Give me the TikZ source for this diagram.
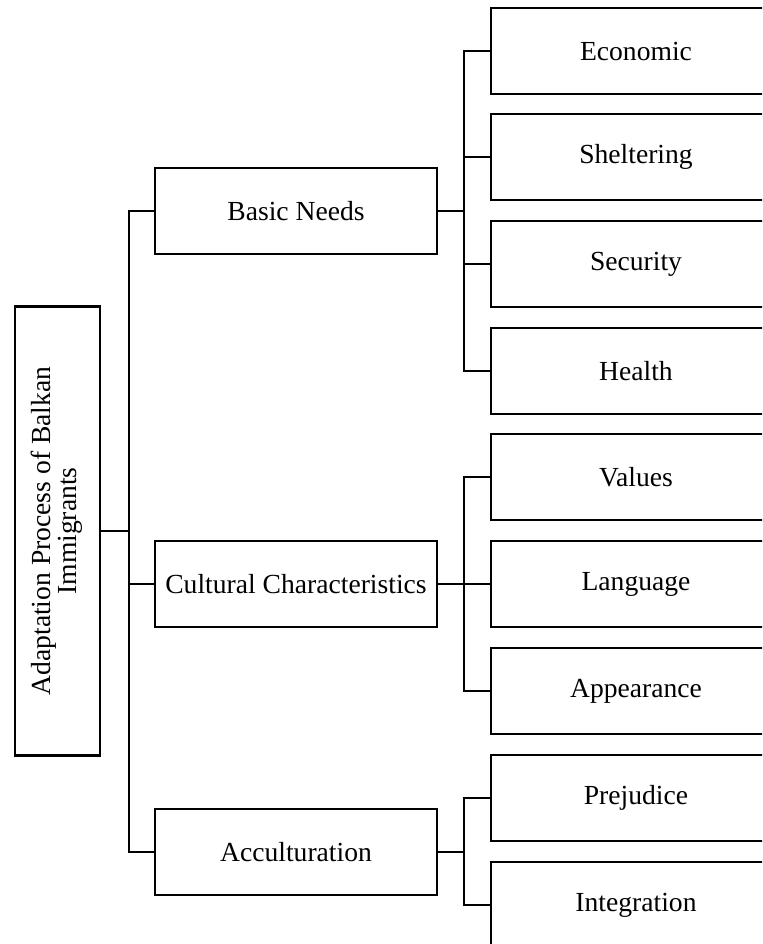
\documentclass[tikz,border=0pt]{standalone}
\usepackage{fontspec}
\setmainfont{Liberation Serif}
\usepackage{graphicx}

\begin{document}
\begin{tikzpicture}[x=0.5pt, y=-0.5pt, line width=1.2pt,
        nodes={draw, rectangle, minimum height=43pt, inner sep=0pt, font=\fontsize{13.8}{16}\selectfont},
        midbox/.style={minimum width=141pt},
        leafbox/.style={minimum width=145pt}]
        \clip (0,0) rectangle (762,944);

        \node[minimum width=42.5pt, minimum height=224.5pt] (root) at (57.5,531)
            {\rotatebox{90}{\begin{tabular}{@{}c@{}}Adaptation Process of Balkan\\[-3pt] Immigrants\end{tabular}}};

        \node[midbox] (basic) at (296,211) {Basic Needs};
        \node[midbox] (cult) at (296,584) {Cultural Characteristics};
        \node[midbox] (accu) at (296,852) {Acculturation};

        \node[leafbox] (econ) at (636,51) {Economic};
        \node[leafbox] (shelt) at (636,157) {Sheltering};
        \node[leafbox] (secu) at (636,264) {Security};
        \node[leafbox] (health) at (636,371) {Health};
        \node[leafbox] (values) at (636,477) {Values};
        \node[leafbox] (lang) at (636,584) {Language};
        \node[leafbox] (appear) at (636,691) {Appearance};
        \node[leafbox] (prej) at (636,798) {Prejudice};
        \node[leafbox] (integ) at (636,905) {Integration};

        \draw (root.east) -- ++(28,0) coordinate (t0);
        \draw (t0) |- (basic.west);
        \draw (t0) |- (cult.west);
        \draw (t0) |- (accu.west);

        \draw (basic.east) -- ++(26,0) coordinate (t1);
        \draw (t1) |- (econ.west);
        \draw (t1) |- (shelt.west);
        \draw (t1) |- (secu.west);
        \draw (t1) |- (health.west);

        \draw (cult.east) -- ++(26,0) coordinate (t2);
        \draw (t2) |- (values.west);
        \draw (t2) |- (lang.west);
        \draw (t2) |- (appear.west);

        \draw (accu.east) -- ++(26,0) coordinate (t3);
        \draw (t3) |- (prej.west);
        \draw (t3) |- (integ.west);
      \end{tikzpicture}
\end{document}
